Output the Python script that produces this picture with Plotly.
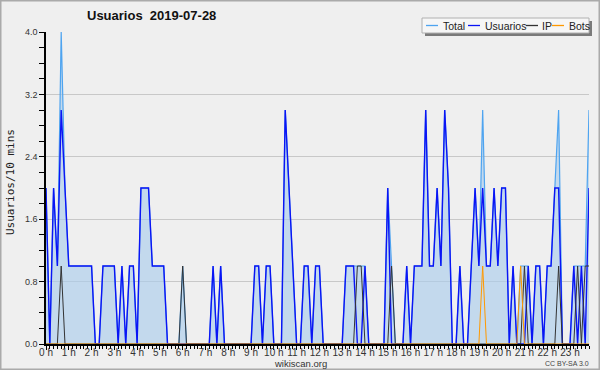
import numpy as np
import plotly.graph_objects as go

hour_labels = [f"{h} h" for h in range(24)]

usuarios = [2, 0, 2, 1, 3, 2, 1, 1, 1, 1, 1, 1, 1, 0, 0, 1, 1, 1, 1, 0,
            1, 0, 1, 1, 0, 2, 2, 2, 1, 1, 1, 1, 0, 0, 0, 0, 0, 0, 0, 0,
            0, 0, 0, 0, 1, 0, 1, 0, 0, 0, 0, 0, 0, 0, 0, 1, 1, 0, 1, 1,
            0, 0, 0, 3, 2, 1, 0, 0, 1, 1, 0, 1, 1, 0, 0, 0, 0, 0, 0, 1,
            1, 1, 0, 0, 1, 0, 0, 0, 0, 0, 2, 0, 0, 0, 0, 1, 0, 1, 1, 1,
            3, 1, 1, 2, 1, 3, 2, 0, 0, 1, 0, 0, 1, 2, 1, 2, 1, 1, 2, 1,
            2, 2, 0, 1, 0, 0, 0, 1, 0, 1, 1, 0, 1, 1, 2, 2, 0, 0, 0, 1,
            0, 1, 0, 2]
ip_idx = [4, 36, 82, 83, 91, 126, 135, 140, 142, 143]
bots_idx = [115, 125]

n = len(usuarios)
ip = [0] * n
for i in ip_idx:
    ip[i] = 1
bots = [0] * n
for i in bots_idx:
    bots[i] = 1
total = [u + a + b for u, a, b in zip(usuarios, ip, bots)]
x = np.arange(n)

FONT = "Liberation Sans, Arial, sans-serif"
C_TOTAL = "#4ea4f0"
C_FILL = "rgba(170,205,235,0.65)"
C_USR = "#0a14f5"
C_IP = "#333333"
C_BOTS = "#ff9900"
BG = "#efefef"

fig = go.Figure()
fig.add_trace(go.Scatter(x=x, y=total, mode="lines", fill="tozeroy", fillcolor=C_FILL,
                         line=dict(color=C_TOTAL, width=1.2), name="Total", showlegend=False))
fig.add_trace(go.Scatter(x=x, y=usuarios, mode="lines",
                         line=dict(color=C_USR, width=1.4), name="Usuarios", showlegend=False))
fig.add_trace(go.Scatter(x=x, y=ip, mode="lines",
                         line=dict(color=C_IP, width=1), name="IP", showlegend=False))
fig.add_trace(go.Scatter(x=x, y=bots, mode="lines",
                         line=dict(color=C_BOTS, width=1), name="Bots", showlegend=False))

L, R, T, B = 46, 11, 32, 26
W, H = 600, 370
PW, PH = W - L - R, H - T - B


def px(v):
    return (v - L) / PW


def py(v):
    return (H - B - v) / PH


shapes = []
# outer frame
shapes.append(dict(type="rect", xref="paper", yref="paper", x0=px(0.5), x1=px(W - 0.5),
                   y0=py(0.5), y1=py(H - 0.5), line=dict(color="#aaaaaa", width=2), layer="above"))
# legend box with shadow
lx0, lx1, ly0, ly1 = 422, 589, 18, 33
shapes.append(dict(type="rect", xref="paper", yref="paper", x0=px(lx0 + 3), x1=px(lx1 + 3),
                   y0=py(ly0 + 3), y1=py(ly1 + 3), fillcolor="#7a7a7a",
                   line=dict(width=0), layer="above"))
shapes.append(dict(type="rect", xref="paper", yref="paper", x0=px(lx0), x1=px(lx1),
                   y0=py(ly0), y1=py(ly1), fillcolor="#f6f6f6",
                   line=dict(color="#b0b0b0", width=1), layer="above"))

annotations = []
legend_items = [("Total", C_TOTAL, 426, 438, 441),
                ("Usuarios", C_USR, 468, 480, 483),
                ("IP", C_IP, 526, 538, 540),
                ("Bots", C_BOTS, 552, 564, 567)]
ly = (ly0 + ly1) / 2
for name, col, a, b, tx in legend_items:
    shapes.append(dict(type="line", xref="paper", yref="paper", x0=px(a), x1=px(b),
                       y0=py(ly), y1=py(ly), line=dict(color=col, width=1.3), layer="above"))
    annotations.append(dict(xref="paper", yref="paper", x=px(tx), y=py(ly), text=name,
                            showarrow=False, xanchor="left", yanchor="middle",
                            font=dict(family=FONT, size=10.5, color="#222222")))

annotations.append(dict(xref="paper", yref="paper", x=px(151), y=py(16),
                        text="<b>Usuarios  2019-07-28</b>", showarrow=False,
                        xanchor="center", yanchor="middle",
                        font=dict(family=FONT, size=13, color="#111111")))
annotations.append(dict(xref="paper", yref="paper", x=px(10), y=py(182),
                        text="Usuarios/10 mins", textangle=-90, showarrow=False,
                        xanchor="center", yanchor="middle",
                        font=dict(family="DejaVu Sans Mono, monospace", size=11, color="#222222")))
annotations.append(dict(xref="paper", yref="paper", x=px(300), y=py(363),
                        text="wikiscan.org", showarrow=False, xanchor="center", yanchor="middle",
                        font=dict(family=FONT, size=9.5, color="#333333")))
annotations.append(dict(xref="paper", yref="paper", x=px(591), y=py(363),
                        text="CC BY-SA 3.0", showarrow=False, xanchor="right", yanchor="middle",
                        font=dict(family=FONT, size=7, color="#444444")))

yt = [0, 0.8, 1.6, 2.4, 3.2, 4.0]
fig.update_layout(
    width=W, height=H, margin=dict(l=L, r=R, t=T, b=B, autoexpand=False),
    paper_bgcolor=BG, plot_bgcolor=BG,
    showlegend=False, shapes=shapes, annotations=annotations,
    xaxis=dict(range=[0, n - 1], tickvals=list(range(0, n, 6)), ticktext=hour_labels,
               tickangle=0, automargin=False, ticklabelstandoff=-6,
               showgrid=False, zeroline=False, showline=True, linecolor="#000000", linewidth=1.5,
               ticks="outside", ticklen=4, tickcolor="#000000", tickwidth=1,
               minor=dict(dtick=1, ticklen=3, ticks="outside", tickcolor="#000000", showgrid=False),
               tickfont=dict(family=FONT, size=10, color="#333333")),
    yaxis=dict(range=[0, 4], tickvals=yt, ticktext=[f"{v:.1f}" for v in yt], automargin=False,
               showgrid=True, gridcolor="#c8c8c8", gridwidth=1, zeroline=False,
               showline=True, linecolor="#000000", linewidth=1.5,
               ticks="outside", ticklen=5, tickcolor="#000000",
               minor=dict(dtick=0.2, ticklen=5, ticks="outside", tickcolor="#000000", showgrid=False),
               tickfont=dict(family=FONT, size=9, color="#333333")),
)

fig.write_html("out.html")
